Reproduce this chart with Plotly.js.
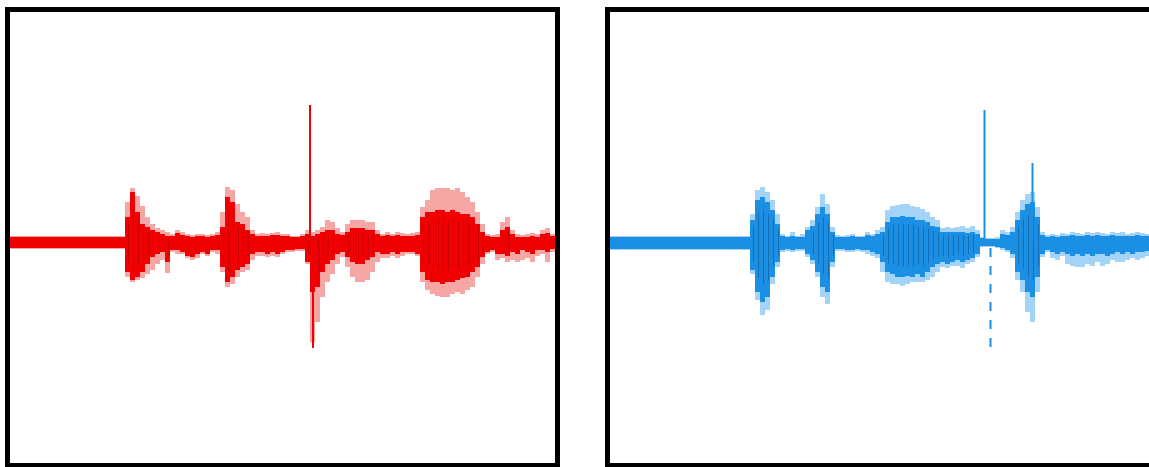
<!DOCTYPE html>
<html>
<head>
<meta charset="utf-8">
<script src="https://cdn.plot.ly/plotly-3.0.1.min.js"></script>
<style>
  html, body { margin: 0; padding: 0; background: #ffffff; overflow: hidden; }
  #chart { width: 1165px; height: 467px; }
</style>
</head>
<body>
<div id="chart"></div>
<script>
// ---- Data: waveform envelopes (amplitude per sample index) ----
const leftUpOuter = [6,6,6,6,6,6,6,6,6,6,6,6,6,6,6,6,6,6,6,6,6,6,6,
  40,54,46,36,25,18,14,12,10,8,12,10,8,7,8,8,7,8,10,30,55,52,38,30,25,12,8,9,8,9,10,8,8,6,6,8,12,10,12,15,22,20,14,10,18,22,22,22,20,20,12,8,10,8,10,9,8,9,10,35,42,52,54,54,54,52,54,50,45,40,30,18,8,7,8,20,25,12,8,7,8,9,8,12,14,8];
const leftUpInner = [5,5,5,5,5,5,5,5,5,5,5,5,5,5,5,5,5,5,5,5,5,5,5,
  25,50,30,18,15,12,10,8,6,6,9,7,6,5,6,6,5,6,7,15,45,40,20,18,12,8,6,6,6,7,7,6,6,5,5,6,8,6,8,10,12,12,8,7,10,14,14,14,12,12,8,6,7,6,7,6,6,6,7,25,30,30,32,32,30,32,30,28,28,25,18,10,6,5,5,12,15,8,5,5,5,6,5,8,9,6];
const leftLowInner = [-6,-6,-6,-6,-6,-6,-6,-6,-6,-6,-6,-6,-6,-6,-6,-6,-6,-6,-6,-6,-6,-6,-6,
  -30,-38,-35,-30,-22,-15,-12,-10,-20,-8,-8,-10,-14,-15,-12,-10,-12,-8,-8,-25,-40,-35,-28,-25,-22,-12,-10,-10,-12,-10,-12,-10,-8,-8,-7,-7,-20,-50,-45,-30,-22,-18,-12,-10,-15,-20,-22,-22,-18,-15,-10,-12,-12,-10,-12,-10,-10,-10,-12,-30,-38,-40,-40,-42,-40,-40,-38,-36,-35,-30,-25,-15,-10,-8,-12,-12,-14,-10,-12,-8,-10,-12,-8,-8,-10,-7];
const leftLowOuter = [-7,-7,-7,-7,-7,-7,-7,-7,-7,-7,-7,-7,-7,-7,-7,-7,-7,-7,-7,-7,-7,-7,-7,
  -35,-40,-38,-36,-32,-28,-22,-18,-31,-10,-12,-12,-16,-18,-16,-12,-14,-10,-12,-30,-45,-42,-35,-30,-28,-18,-14,-14,-15,-14,-15,-12,-10,-10,-9,-9,-22,-100,-80,-55,-40,-32,-22,-15,-25,-35,-40,-40,-38,-30,-20,-16,-16,-14,-16,-14,-12,-12,-14,-40,-48,-52,-54,-55,-55,-52,-50,-52,-48,-45,-35,-22,-12,-10,-18,-16,-20,-18,-20,-18,-16,-20,-14,-12,-20,-10];
const leftSpikeAt = [59.5, 60.1];
const leftSpikeTop = [137, 0];
const leftSpikeBottom = [0, -106];

const rightUpOuter = [6,6,6,6,6,6,6,6,6,6,6,6,6,6,6,6,6,6,6,6,6,6,6,6,6,6,6,6,
  28,52,55,50,42,28,8,6,10,6,8,15,22,35,48,38,15,7,6,7,8,6,6,10,8,12,15,32,36,37,38,38,36,35,33,30,25,22,14,15,14,15,16,14,16,12,5,4,4,5,12,10,15,30,42,48,50,35,10,7,
  8,7,9,8,10,9,8,10,9,10,9,8,10,9,10,8,9,10,9,8,8];
const rightUpInner = [5,5,5,5,5,5,5,5,5,5,5,5,5,5,5,5,5,5,5,5,5,5,5,5,5,5,5,5,
  22,42,45,40,32,18,6,5,6,5,5,12,16,28,35,28,10,5,5,5,6,5,5,7,6,8,10,20,25,25,26,25,25,22,22,20,16,15,10,10,10,10,10,9,10,8,4,3,3,3,8,7,10,22,32,38,40,25,7,5,
  6,5,6,6,7,6,6,7,6,7,6,6,7,6,6,6,6,7,6,6,6];
const rightLowInner = [-7,-7,-7,-7,-7,-7,-7,-7,-7,-7,-7,-7,-7,-7,-7,-7,-7,-7,-7,-7,-7,-7,-7,-7,-7,-7,-7,-7,
  -28,-50,-60,-55,-35,-20,-8,-7,-8,-7,-7,-12,-18,-30,-45,-50,-20,-7,-7,-8,-8,-7,-8,-8,-10,-12,-20,-30,-32,-35,-35,-34,-35,-32,-35,-30,-25,-22,-20,-22,-20,-18,-20,-18,-16,-12,-4,-4,-4,-5,-6,-8,-12,-30,-38,-50,-55,-35,-12,-8,
  -10,-12,-10,-12,-14,-12,-14,-12,-14,-12,-12,-14,-12,-10,-12,-10,-12,-10,-10,-9,-9];
const rightLowOuter = [-8,-8,-8,-8,-8,-8,-8,-8,-8,-8,-8,-8,-8,-8,-8,-8,-8,-8,-8,-8,-8,-8,-8,-8,-8,-8,-8,-8,
  -32,-58,-73,-68,-42,-25,-10,-9,-10,-9,-9,-15,-22,-35,-55,-62,-25,-9,-9,-10,-10,-9,-10,-12,-14,-16,-30,-40,-42,-42,-44,-42,-40,-40,-40,-38,-35,-30,-25,-26,-24,-24,-26,-22,-20,-15,-5,-5,-5,-6,-8,-10,-16,-38,-50,-70,-80,-50,-15,-10,
  -16,-18,-14,-22,-24,-25,-25,-22,-24,-20,-24,-22,-18,-20,-20,-18,-16,-18,-16,-14,-14];
const rightSpikeAt = [74.4, 75.6, 84.0];
const rightSpikeTop = [132, 0, 79];
const rightSpikeBottom = [0, -105, 0];

// ---- Styles ----
const RED = { pale: '#f7a6a6', solid: '#f00000', dark: '#8c0000' };
const BLUE = { pale: '#a3d3f6', solid: '#1b8fe3', dark: '#0b2f55' };

function idx(n) { return Array.from({length: n}, (_, i) => i); }

function panelTraces(up, upIn, lowIn, low, spikeAt, spikeTop, spikeBot, col, xa, ya, dashDown) {
  const xs = idx(up.length);
  const traces = [];
  // pale outer envelope
  traces.push({
    type: 'bar', x: xs, y: up.map((v, i) => v - low[i]), base: low,
    width: 1, marker: { color: col.pale, line: { width: 0 } },
    xaxis: xa, yaxis: ya, hoverinfo: 'skip', showlegend: false
  });
  // solid inner envelope
  traces.push({
    type: 'bar', x: xs, y: upIn.map((v, i) => v - lowIn[i]), base: lowIn,
    width: 1, marker: { color: col.solid, line: { width: 0 } },
    xaxis: xa, yaxis: ya, hoverinfo: 'skip', showlegend: false
  });
  // darker streaks inside louder samples
  const dx = [], dy = [];
  xs.forEach(i => {
    if (upIn[i] - lowIn[i] > 24) {
      dx.push(i + 0.2, i + 0.2, null);
      dy.push(lowIn[i] * 0.7, upIn[i] * 0.7, null);
    }
  });
  traces.push({
    type: 'scatter', mode: 'lines', x: dx, y: dy, connectgaps: false,
    line: { color: col.dark, width: 1 }, opacity: 0.35,
    xaxis: xa, yaxis: ya, hoverinfo: 'skip', showlegend: false
  });
  spikeAt.forEach((s, k) => {
    traces.push({
      type: 'scatter', mode: 'lines', x: [s, s], y: [spikeBot[k], spikeTop[k]],
      line: { color: col.solid, width: 2, dash: (dashDown && spikeBot[k] < 0) ? 'dash' : 'solid' },
      xaxis: xa, yaxis: ya, hoverinfo: 'skip', showlegend: false
    });
  });
  return traces;
}

const data = [].concat(
  panelTraces(leftUpOuter, leftUpInner, leftLowInner, leftLowOuter,
              leftSpikeAt, leftSpikeTop, leftSpikeBottom, RED, 'x', 'y', false),
  panelTraces(rightUpOuter, rightUpInner, rightLowInner, rightLowOuter,
              rightSpikeAt, rightSpikeTop, rightSpikeBottom, BLUE, 'x2', 'y2', true)
);

const axisStyle = {
  showgrid: false, zeroline: false, showticklabels: false, ticks: '',
  showline: true, mirror: true, linecolor: '#000000', linewidth: 5, fixedrange: true
};
const xr = [-0.5, 108.5];
const yr = [-221, 230];
const layout = {
  width: 1165, height: 467,
  margin: { l: 10, r: 10, t: 12, b: 4, pad: 0 },
  paper_bgcolor: '#ffffff', plot_bgcolor: '#ffffff',
  barmode: 'overlay', bargap: 0,
  showlegend: false,
  xaxis: Object.assign({}, axisStyle, { domain: [0, 545/1145], range: xr, anchor: 'y' }),
  yaxis: Object.assign({}, axisStyle, { range: yr, anchor: 'x' }),
  xaxis2: Object.assign({}, axisStyle, { domain: [600/1145, 1], range: xr, anchor: 'y2' }),
  yaxis2: Object.assign({}, axisStyle, { range: yr, anchor: 'x2' })
};
Plotly.newPlot('chart', data, layout, { displayModeBar: false, staticPlot: true });
</script>
</body>
</html>
